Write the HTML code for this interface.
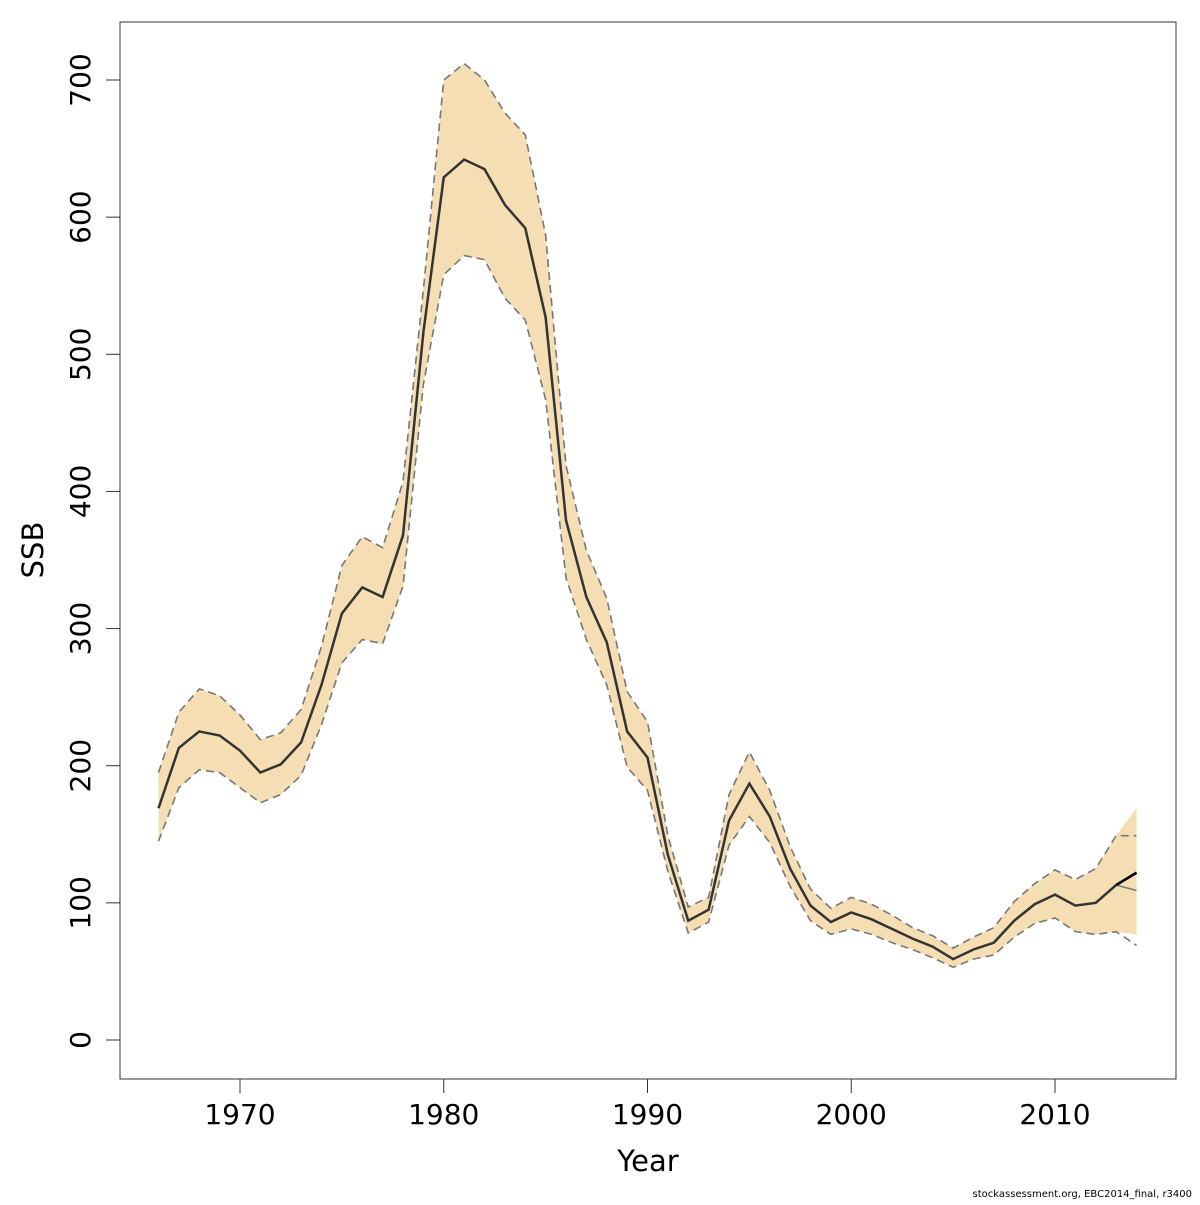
<!DOCTYPE html>
<html><head><meta charset="utf-8"><style>
html,body{margin:0;padding:0;background:#fff;}
svg text{font-family:"DejaVu Sans","Liberation Sans",sans-serif;}
</style></head><body>
<svg id="chart" width="1200" height="1200" xmlns="http://www.w3.org/2000/svg"></svg>
<script>
const years=[];for(let y=1966;y<=2014;y++)years.push(y);
const ssb=[169,213,225,222,211,195,201,217,259,311,330,323,368,516,629,642,635,609,592,527,379,323,290,225,206,135,87,95,160,187,163,125,98,86,93,88,81,74,68,59,66,71,87,99,106,98,100,113,122];
const upper=[195,239,256,251,237,219,224,241,287,346,367,359,407,547,700,712,700,676,660,587,419,357,322,254,232,149,97,104,179,210,182,141,110,96,104,99,91,82,76,67,75,82,101,114,124,117,125,149,149];
const lower=[145,184,197,195,184,173,179,193,230,275,292,289,331,478,558,572,569,541,525,467,337,292,259,199,182,123,78,86,142,163,144,112,87,77,81,77,71,66,60,53,59,62,75,85,89,79,77,79,69];
const bandUpper2014=169, bandLower2014=77, altLast=[113,109];
const xTicks=[1970,1980,1990,2000,2010];
const yTicks=[0,100,200,300,400,500,600,700];

const X=v=>240+(v-1970)*20.375;
const Y=v=>1040-v*(960/700);
const svg=document.getElementById('chart');
const NS='http://www.w3.org/2000/svg';
function mk(t,a,p){const e=document.createElementNS(NS,t);for(const k in a)e.setAttribute(k,a[k]);(p||svg).appendChild(e);return e;}

const bu=upper.slice();bu[bu.length-1]=bandUpper2014;
const bl=lower.slice();bl[bl.length-1]=bandLower2014;
let d='M'+years.map((y,i)=>X(y)+','+Y(bu[i])).join(' L');
for(let i=years.length-1;i>=0;i--)d+=' L'+X(years[i])+','+Y(bl[i]);
const band=mk('path',{d:d+'Z',fill:'#f5deb3',stroke:'none'});



function line(arr,attrs,name){const p=mk('polyline',Object.assign({points:years.map((y,i)=>X(y)+','+Y(arr[i])).join(' '),fill:'none'},attrs));

return p;}
line(upper,{stroke:'#777','stroke-width':1.6,'stroke-dasharray':'8,5'},'upper-bound-line');
line(lower,{stroke:'#777','stroke-width':1.6,'stroke-dasharray':'8,5'},'lower-bound-line');
line(ssb,{stroke:'#333','stroke-width':2.5},'ssb-line');
const alt=mk('line',{x1:X(2013),y1:Y(altLast[0]),x2:X(2014),y2:Y(altLast[1]),stroke:'#777','stroke-width':1.5});


const last=mk('line',{x1:X(2013),y1:Y(ssb[47]),x2:X(2014),y2:Y(ssb[48]),stroke:'#000','stroke-width':2.5});



const fr=mk('rect',{x:120,y:22,width:1056,height:1057,fill:'none',stroke:'#333','stroke-width':1});



xTicks.forEach(t=>{
 const l=mk('line',{x1:X(t),y1:1079,x2:X(t),y2:1093,stroke:'#333'});
 
 
 const tx=mk('text',{x:X(t),y:1124,'font-size':28,'text-anchor':'middle',fill:'#000'});tx.textContent=t;
 
 
});
yTicks.forEach(t=>{
 const l=mk('line',{x1:106,y1:Y(t),x2:120,y2:Y(t),stroke:'#333'});
 
 
 const tx=mk('text',{x:0,y:0,'font-size':28,'text-anchor':'middle',fill:'#000',transform:'translate(90,'+Y(t)+') rotate(-90)'});tx.textContent=t;
 
 
});
const xt=mk('text',{x:648,y:1171,'font-size':29,'text-anchor':'middle',fill:'#000'});xt.textContent='Year';


const yt=mk('text',{x:0,y:0,'font-size':29,'text-anchor':'middle',fill:'#000',transform:'translate(43,550) rotate(-90)'});yt.textContent='SSB';


const ft=mk('text',{x:1192,y:1197,'font-size':10,'text-anchor':'end',fill:'#000'});ft.textContent='stockassessment.org, EBC2014_final, r3400';


</script>
</body></html>
